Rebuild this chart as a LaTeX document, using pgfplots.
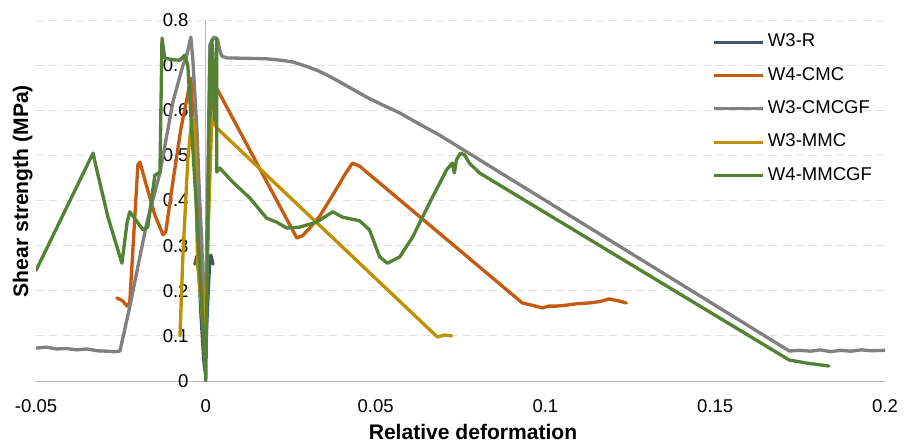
\documentclass[border=0pt]{standalone}
\usepackage{pgfplots}
\pgfplotsset{compat=1.18}
\usepackage{fontspec}
\setmainfont{Liberation Sans}
\definecolor{cR}{HTML}{44546A}
\definecolor{cCMC}{HTML}{C55A11}
\definecolor{cCMCGF}{HTML}{808080}
\definecolor{cMMC}{HTML}{BF9000}
\definecolor{cMMCGF}{HTML}{548235}
\begin{document}
\begin{tikzpicture}
\begin{axis}[
  at={(0,0)}, anchor=south west,
  scale only axis, width=636.75pt, height=270.75pt,
  xmin=-0.05, xmax=0.2, ymin=0, ymax=0.8,
  axis lines=middle,
  axis line style={draw=black!28, line width=0.75pt, -},
  hide obscured x ticks=false, hide obscured y ticks=false,
  xtick={-0.05,0,0.05,0.1,0.15,0.2},
  xticklabels={-0.05,0,0.05,0.1,0.15,0.2},
  ytick={0,0.1,0.2,0.3,0.4,0.5,0.6,0.7,0.8},
  yticklabels={0,0.1,0.2,0.3,0.4,0.5,0.6,0.7,0.8},
  major tick length=0pt,
  ymajorgrids,
  grid style={draw=black!12, dash pattern=on 6pt off 4pt, line width=0.75pt},
  tick label style={font=\fontsize{13.9}{16}\selectfont},
  xticklabel style={anchor=north, inner sep=0pt, yshift=-13.5pt},
  yticklabel style={anchor=east, inner sep=0pt, xshift=-12.75pt},
  xlabel={Relative deformation}, ylabel={Shear strength (MPa)},
  every axis x label/.style={at={(axis description cs:0.5147,-0.1634)}, anchor=base, font=\bfseries\fontsize{15.8}{18}\selectfont},
  every axis y label/.style={at={(axis description cs:-0.00942,0.526)}, rotate=90, anchor=base, font=\bfseries\fontsize{15.8}{18}\selectfont},
  legend style={draw=none, fill=none, at={(axis description cs:0.797,0.963)}, anchor=north west,
    inner sep=0pt, outer sep=0pt, row sep=12pt, font=\fontsize{13.9}{16}\selectfont,
    nodes={inner sep=0pt, text height=10pt, text depth=3pt},
    /tikz/every odd column/.style={column sep=2.25pt}},
  legend cell align=left,
  legend image code/.code={\draw[#1, line width=2.25pt, line cap=butt] (0pt,0pt) -- (37pt,0pt);},
  every axis plot/.append style={line width=2.5pt, line join=round, line cap=round, no markers},
]
% W3-R
\addplot[cR] coordinates {
(-0.0032,0.259) (-0.0026,0.277) (-0.0021,0.264) (-0.0015,0.157) (-0.0006,0.047) (-0.0003,0.024)
(0.0006,0.18) (0.0012,0.273) (0.0015,0.279) (0.0021,0.259)
};
\addlegendentry{W3-R}
% W4-CMC
\addplot[cCMC] coordinates {
(-0.0262,0.184) (-0.0250,0.180) (-0.0244,0.177) (-0.0232,0.166) (-0.0224,0.173)
(-0.0200,0.479) (-0.0194,0.485) (-0.0171,0.423) (-0.0150,0.368) (-0.0126,0.324) (-0.0118,0.330)
(-0.0097,0.441) (-0.0074,0.556) (-0.0044,0.671) (-0.0029,0.445) (-0.0003,0.05)
(0.0009,0.40) (0.0018,0.674) (0.0032,0.649) (0.0268,0.317) (0.0285,0.322) (0.0306,0.339)
(0.0335,0.365) (0.0374,0.412) (0.0409,0.457) (0.0432,0.483) (0.0453,0.476)
(0.0932,0.173) (0.0960,0.168) (0.0991,0.162) (0.1010,0.166) (0.1032,0.166) (0.1060,0.168)
(0.1090,0.171) (0.1129,0.173) (0.1160,0.176) (0.1188,0.182) (0.1218,0.177) (0.1238,0.173)
};
\addlegendentry{W4-CMC}
% W3-CMCGF
\addplot[cCMCGF] coordinates {
(-0.0500,0.073) (-0.0470,0.075) (-0.0440,0.071) (-0.0410,0.072) (-0.0380,0.069) (-0.0350,0.071)
(-0.0320,0.067) (-0.0290,0.066) (-0.0270,0.065) (-0.0253,0.066)
(-0.0224,0.164) (-0.0174,0.350) (-0.0135,0.461) (-0.0097,0.618) (-0.0068,0.698) (-0.0056,0.722)
(-0.0044,0.762) (-0.0038,0.711) (-0.0026,0.556) (-0.0018,0.400) (-0.0012,0.312) (-0.0003,0.06)
(0.0006,0.45) (0.0012,0.745) (0.0024,0.762) (0.0035,0.756) (0.0041,0.733) (0.0047,0.720)
(0.0062,0.716) (0.0129,0.715) (0.0179,0.714) (0.0220,0.711) (0.0256,0.707) (0.0290,0.699)
(0.0326,0.689) (0.0360,0.677) (0.0394,0.663) (0.0434,0.646) (0.0474,0.629) (0.0520,0.612)
(0.0571,0.594) (0.0630,0.569) (0.0688,0.545)
(0.1718,0.0665) (0.1750,0.068) (0.1780,0.066) (0.1810,0.069) (0.1840,0.065) (0.1870,0.068)
(0.1900,0.066) (0.1930,0.069) (0.1960,0.067) (0.2000,0.068)
};
\addlegendentry{W3-CMCGF}
% W3-MMC
\addplot[cMMC] coordinates {
(-0.0076,0.100) (-0.0068,0.268) (-0.0053,0.490) (-0.0041,0.585) (-0.0033,0.570) (-0.0024,0.257)
(-0.0005,0.10) (0.0012,0.45) (0.0018,0.583) (0.0032,0.561) (0.0682,0.0975) (0.0703,0.102) (0.0724,0.100)
};
\addlegendentry{W3-MMC}
% W4-MMCGF
\addplot[cMMCGF] coordinates {
(-0.0500,0.245) (-0.0332,0.505) (-0.0321,0.468) (-0.0288,0.363) (-0.0247,0.261) (-0.0232,0.350)
(-0.0224,0.375) (-0.0206,0.357) (-0.0185,0.335) (-0.0171,0.341) (-0.0150,0.456) (-0.0135,0.463)
(-0.0129,0.760) (-0.0121,0.716) (-0.0100,0.712) (-0.0076,0.711) (-0.0062,0.722) (-0.0053,0.700)
(-0.0029,0.401) (0.0000,0.0) (0.0012,0.711) (0.0018,0.756) (0.0026,0.578) (0.0032,0.760)
(0.0032,0.463) (0.0041,0.472) (0.0079,0.441) (0.0129,0.406) (0.0179,0.361) (0.0209,0.352)
(0.0238,0.339) (0.0276,0.341) (0.0326,0.352) (0.0374,0.375) (0.0403,0.363) (0.0453,0.355)
(0.0482,0.335) (0.0512,0.275) (0.0535,0.261) (0.0571,0.275) (0.0609,0.319) (0.0638,0.363)
(0.0668,0.408) (0.0709,0.468) (0.0726,0.483) (0.0732,0.461) (0.0738,0.490) (0.0750,0.505)
(0.0762,0.501) (0.0776,0.483) (0.0806,0.461) (0.1718,0.0465) (0.1768,0.0399) (0.1835,0.0332)
};
\addlegendentry{W4-MMCGF}
\end{axis}
\pgfresetboundingbox
\path[use as bounding box] (-27pt,-47.25pt) rectangle (658.5pt,285.75pt);
\end{tikzpicture}
\end{document}
